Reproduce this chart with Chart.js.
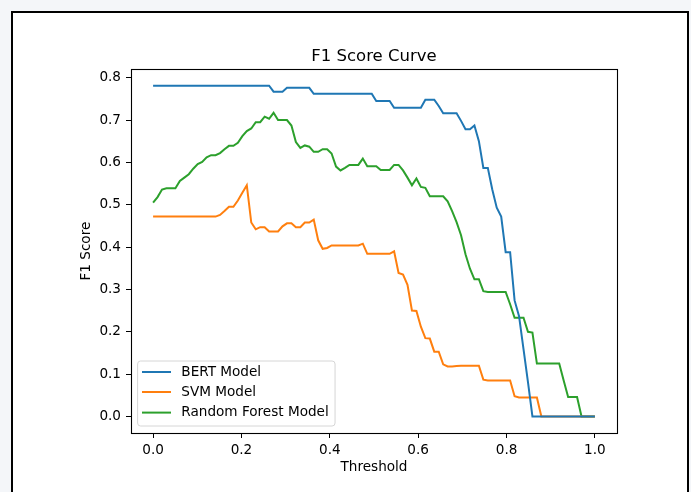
<!DOCTYPE html>
<html>
<head>
<meta charset="utf-8">
<script src="https://cdn.jsdelivr.net/npm/chart.js@4.4.1/dist/chart.umd.min.js"></script>
<style>
html,body{margin:0;padding:0;background:#ffffff;}
#wrap{width:691px;height:492px;position:relative;}
</style>
</head>
<body>
<div id="wrap"><canvas id="c" width="691" height="492"></canvas></div>
<script>
// ---- data ----
const thresholds = [
0.0000,0.0101,0.0202,0.0303,0.0404,0.0505,0.0606,0.0707,0.0808,0.0909,
0.1010,0.1111,0.1212,0.1313,0.1414,0.1515,0.1616,0.1717,0.1818,0.1919,
0.2020,0.2121,0.2222,0.2323,0.2424,0.2525,0.2626,0.2727,0.2828,0.2929,
0.3030,0.3131,0.3232,0.3333,0.3434,0.3535,0.3636,0.3737,0.3838,0.3939,
0.4040,0.4141,0.4242,0.4343,0.4444,0.4545,0.4646,0.4747,0.4848,0.4949,
0.5051,0.5152,0.5253,0.5354,0.5455,0.5556,0.5657,0.5758,0.5859,0.5960,
0.6061,0.6162,0.6263,0.6364,0.6465,0.6566,0.6667,0.6768,0.6869,0.6970,
0.7071,0.7172,0.7273,0.7374,0.7475,0.7576,0.7677,0.7778,0.7879,0.7980,
0.8081,0.8182,0.8283,0.8384,0.8485,0.8586,0.8687,0.8788,0.8889,0.8990,
0.9091,0.9192,0.9293,0.9394,0.9495,0.9596,0.9697,0.9798,0.9899,1.0000];

const bertF1 = [
0.781,0.781,0.781,0.781,0.781,0.781,0.781,0.781,0.781,0.781,
0.781,0.781,0.781,0.781,0.781,0.781,0.781,0.781,0.781,0.781,
0.781,0.781,0.781,0.781,0.781,0.781,0.781,0.767,0.767,0.767,
0.776,0.776,0.776,0.776,0.776,0.776,0.762,0.762,0.762,0.762,
0.762,0.762,0.762,0.762,0.762,0.762,0.762,0.762,0.762,0.762,
0.745,0.745,0.745,0.745,0.729,0.729,0.729,0.729,0.729,0.729,
0.729,0.748,0.748,0.748,0.733,0.716,0.716,0.716,0.716,0.698,
0.678,0.678,0.687,0.650,0.587,0.587,0.536,0.493,0.472,0.388,
0.388,0.274,0.237,0.159,0.081,0.000,0.000,0.000,0.000,0.000,
0.000,0.000,0.000,0.000,0.000,0.000,0.000,0.000,0.000,0.000];

const svmF1 = [
0.472,0.472,0.472,0.472,0.472,0.472,0.472,0.472,0.472,0.472,
0.472,0.472,0.472,0.472,0.472,0.476,0.485,0.495,0.495,0.510,
0.528,0.546,0.458,0.442,0.447,0.447,0.437,0.437,0.437,0.449,
0.456,0.456,0.447,0.447,0.458,0.458,0.465,0.416,0.396,0.398,
0.404,0.404,0.404,0.404,0.404,0.404,0.404,0.408,0.384,0.384,
0.384,0.384,0.384,0.384,0.390,0.339,0.335,0.311,0.250,0.249,
0.212,0.185,0.184,0.153,0.153,0.123,0.118,0.118,0.119,0.120,
0.120,0.120,0.120,0.120,0.087,0.085,0.085,0.085,0.085,0.085,
0.085,0.048,0.045,0.045,0.045,0.045,0.045,0.000,0.000,0.000,
0.000,0.000,0.000,0.000,0.000,0.000,0.000,0.000,0.000,0.000];

const rfF1 = [
0.505,0.518,0.536,0.539,0.539,0.539,0.556,0.564,0.572,0.585,
0.596,0.601,0.612,0.617,0.617,0.622,0.631,0.639,0.639,0.646,
0.662,0.674,0.680,0.695,0.695,0.708,0.703,0.717,0.700,0.700,
0.700,0.687,0.648,0.634,0.640,0.637,0.625,0.625,0.631,0.631,
0.621,0.590,0.581,0.587,0.594,0.594,0.594,0.609,0.591,0.591,
0.591,0.582,0.582,0.582,0.594,0.594,0.581,0.564,0.546,0.562,
0.542,0.540,0.520,0.520,0.520,0.520,0.508,0.485,0.459,0.428,
0.383,0.349,0.324,0.324,0.296,0.294,0.294,0.294,0.294,0.294,
0.265,0.233,0.233,0.233,0.200,0.198,0.125,0.125,0.125,0.125,
0.125,0.125,0.085,0.046,0.046,0.046,0.000,0.000,0.000,0.000];

const seriesNames = ['BERT Model', 'SVM Model', 'Random Forest Model'];
const seriesColors = ['#1f77b4', '#ff7f0e', '#2ca02c'];
const xTicks = [0.0, 0.2, 0.4, 0.6, 0.8, 1.0];
const yTicks = [0.0, 0.1, 0.2, 0.3, 0.4, 0.5, 0.6, 0.7, 0.8];
const chartTitle = 'F1 Score Curve';

const FONT = "'DejaVu Sans', sans-serif";
const SMALL = 13.6;
const pts = arr => thresholds.map((t, i) => ({x: t, y: arr[i]}));

const frame = {
  id: 'frame',
  beforeDraw(chart) {
    const ctx = chart.ctx;
    ctx.save();
    ctx.fillStyle = '#f4f6f9';
    ctx.fillRect(0, 0, chart.width, chart.height);
    ctx.fillStyle = '#ffffff';
    ctx.fillRect(12, 12, 676, 490);
    ctx.strokeStyle = '#000000';
    ctx.lineWidth = 2;
    ctx.strokeRect(12, 12, 676, 500);
    ctx.restore();
  },
  afterDraw(chart) {
    const ctx = chart.ctx;
    const a = chart.chartArea;
    ctx.save();
    // title centred over the axes
    ctx.fillStyle = '#000000';
    ctx.font = '16.5px ' + FONT;
    ctx.textAlign = 'center';
    ctx.textBaseline = 'alphabetic';
    ctx.fillText(chartTitle, (a.left + a.right) / 2, a.top - 8);
    // axes box (all four spines)
    ctx.strokeStyle = '#000000';
    ctx.lineWidth = 1.1;
    ctx.strokeRect(Math.round(a.left) + 0.5, Math.round(a.top) + 0.5,
                   Math.round(a.right - a.left), Math.round(a.bottom - a.top));
    // legend (lower left, like matplotlib "best")
    ctx.font = SMALL + 'px ' + FONT;
    let maxW = 0;
    chart.data.datasets.forEach(d => { maxW = Math.max(maxW, ctx.measureText(d.label).width); });
    const bx = a.left + 6.6, bBottom = a.bottom - 7;
    const bh = 65, bw = 44 + maxW + 6;
    const by = bBottom - bh;
    const r = 3;
    ctx.beginPath();
    ctx.moveTo(bx + r, by);
    ctx.lineTo(bx + bw - r, by);
    ctx.arcTo(bx + bw, by, bx + bw, by + r, r);
    ctx.lineTo(bx + bw, by + bh - r);
    ctx.arcTo(bx + bw, by + bh, bx + bw - r, by + bh, r);
    ctx.lineTo(bx + r, by + bh);
    ctx.arcTo(bx, by + bh, bx, by + bh - r, r);
    ctx.lineTo(bx, by + r);
    ctx.arcTo(bx, by, bx + r, by, r);
    ctx.closePath();
    ctx.fillStyle = 'rgba(255,255,255,0.8)';
    ctx.fill();
    ctx.strokeStyle = '#d6d6d6';
    ctx.lineWidth = 1;
    ctx.stroke();
    const rows = [11, 31, 51.6];
    chart.data.datasets.forEach((d, i) => {
      const y = by + rows[i];
      ctx.strokeStyle = d.borderColor;
      ctx.lineWidth = 2;
      ctx.beginPath();
      ctx.moveTo(bx + 4.4, y);
      ctx.lineTo(bx + 33.4, y);
      ctx.stroke();
      ctx.fillStyle = '#000000';
      ctx.textBaseline = 'middle';
      ctx.textAlign = 'left';
      ctx.fillText(d.label, bx + 43.7, y);
    });
    ctx.restore();
  }
};

new Chart(document.getElementById('c'), {
  type: 'line',
  data: {
    datasets: [
      {label: seriesNames[0], data: pts(bertF1), borderColor: seriesColors[0]},
      {label: seriesNames[1], data: pts(svmF1), borderColor: seriesColors[1]},
      {label: seriesNames[2], data: pts(rfF1), borderColor: seriesColors[2]}
    ]
  },
  options: {
    responsive: false,
    animation: false,
    devicePixelRatio: 1,
    layout: {padding: {left: 0, right: 74, top: 69.2, bottom: 0}},
    elements: {
      point: {radius: 0},
      line: {borderWidth: 2, tension: 0, fill: false, borderJoinStyle: 'miter', borderCapStyle: 'butt'}
    },
    plugins: {
      legend: {display: false},
      tooltip: {enabled: false},
      title: {display: false}
    },
    scales: {
      x: {
        type: 'linear',
        min: -0.05, max: 1.05,
        afterFit: s => { s.height = 59; },
        afterBuildTicks: s => { s.ticks = xTicks.map(v => ({value: v})); },
        grid: {display: true, drawOnChartArea: false, drawTicks: true, tickLength: 5, tickColor: '#000000', tickWidth: 1},
        border: {display: false},
        ticks: {
          color: '#000000', font: {family: FONT, size: SMALL}, padding: 4,
          maxRotation: 0, autoSkip: false,
          callback: v => Number(v).toFixed(1)
        },
        title: {display: true, text: 'Threshold', color: '#000000',
                font: {family: FONT, size: SMALL}, padding: {top: 0, bottom: 16.5}}
      },
      y: {
        type: 'linear',
        min: -0.039, max: 0.820,
        afterFit: s => { s.width = 131; },
        afterBuildTicks: s => { s.ticks = yTicks.map(v => ({value: v})); },
        grid: {display: true, drawOnChartArea: false, drawTicks: true, tickLength: 5, tickColor: '#000000', tickWidth: 1},
        border: {display: false},
        ticks: {
          color: '#000000', font: {family: FONT, size: SMALL}, padding: 5,
          autoSkip: false,
          callback: v => Number(v).toFixed(1)
        },
        title: {display: true, text: 'F1 Score', color: '#000000',
                font: {family: FONT, size: SMALL}, padding: {top: 78.5, bottom: 0}}
      }
    }
  },
  plugins: [frame]
});
</script>
</body>
</html>
